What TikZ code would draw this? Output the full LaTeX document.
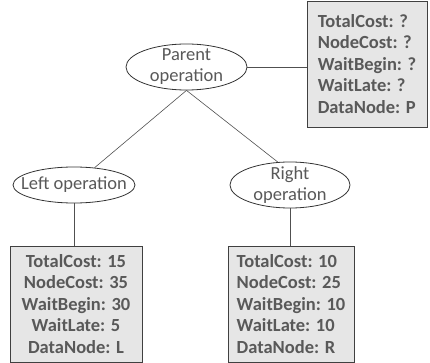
\documentclass[tikz,border=0pt]{standalone}
\usepackage{fontspec}
\setmainfont{Carlito}
\usetikzlibrary{shapes.geometric}
\definecolor{txtgray}{RGB}{89,89,89}
\definecolor{linegray}{RGB}{80,80,80}
\definecolor{boxfill}{RGB}{230,230,230}

\begin{document}
\begin{tikzpicture}[x=1pt,y=-1pt,
  op/.style={ellipse,draw=black!80,thick,fill=white,inner xsep=-15pt,inner ysep=-6pt,
    text=txtgray,align=center,font=\fontsize{18.5}{21}\selectfont},
  costbox/.style={rectangle,draw=black!75,thick,fill=boxfill,inner sep=0pt,
    text=txtgray,font=\bfseries\fontsize{18.5}{21.5}\selectfont},
  link/.style={draw=linegray,semithick}]
\useasboundingbox (0,0) rectangle (430,363); % --- picture frame

% ----- operations
\node[op,minimum width=121pt,minimum height=46pt] (parent) at (186.5,67) {Parent\\operation};
\node[op,minimum width=122pt,minimum height=36pt] (left) at (74,185) {Left operation};
\node[op,minimum width=120pt,minimum height=46pt] (right) at (290,185) {Right\\operation};

% ----- cost boxes
\node[costbox,align=left,minimum width=120pt,minimum height=126pt] (parentcost) at (367,64)
  {TotalCost: ?\\NodeCost: ?\\WaitBegin: ?\\WaitLate: ?\\DataNode: P};
\node[costbox,align=center,minimum width=132pt,minimum height=116pt] (leftcost) at (76,304)
  {TotalCost: 15\\NodeCost: 35\\WaitBegin: 30\\WaitLate: 5\\DataNode: L};
\node[costbox,align=left,minimum width=126pt,minimum height=116pt] (rightcost) at (291,304)
  {TotalCost: 10\\NodeCost: 25\\WaitBegin: 10\\WaitLate: 10\\DataNode: R};

% ----- connectors
\draw[link] (parent.east) -- (parent.east -| parentcost.west);
\draw[link] (parent.south) -- (left);
\draw[link] (parent.south) -- (right.118);
\draw[link] (left.south) -- (left.south |- leftcost.north);
\draw[link] (right.south) -- (right.south |- rightcost.north);
\end{tikzpicture}
\end{document}
